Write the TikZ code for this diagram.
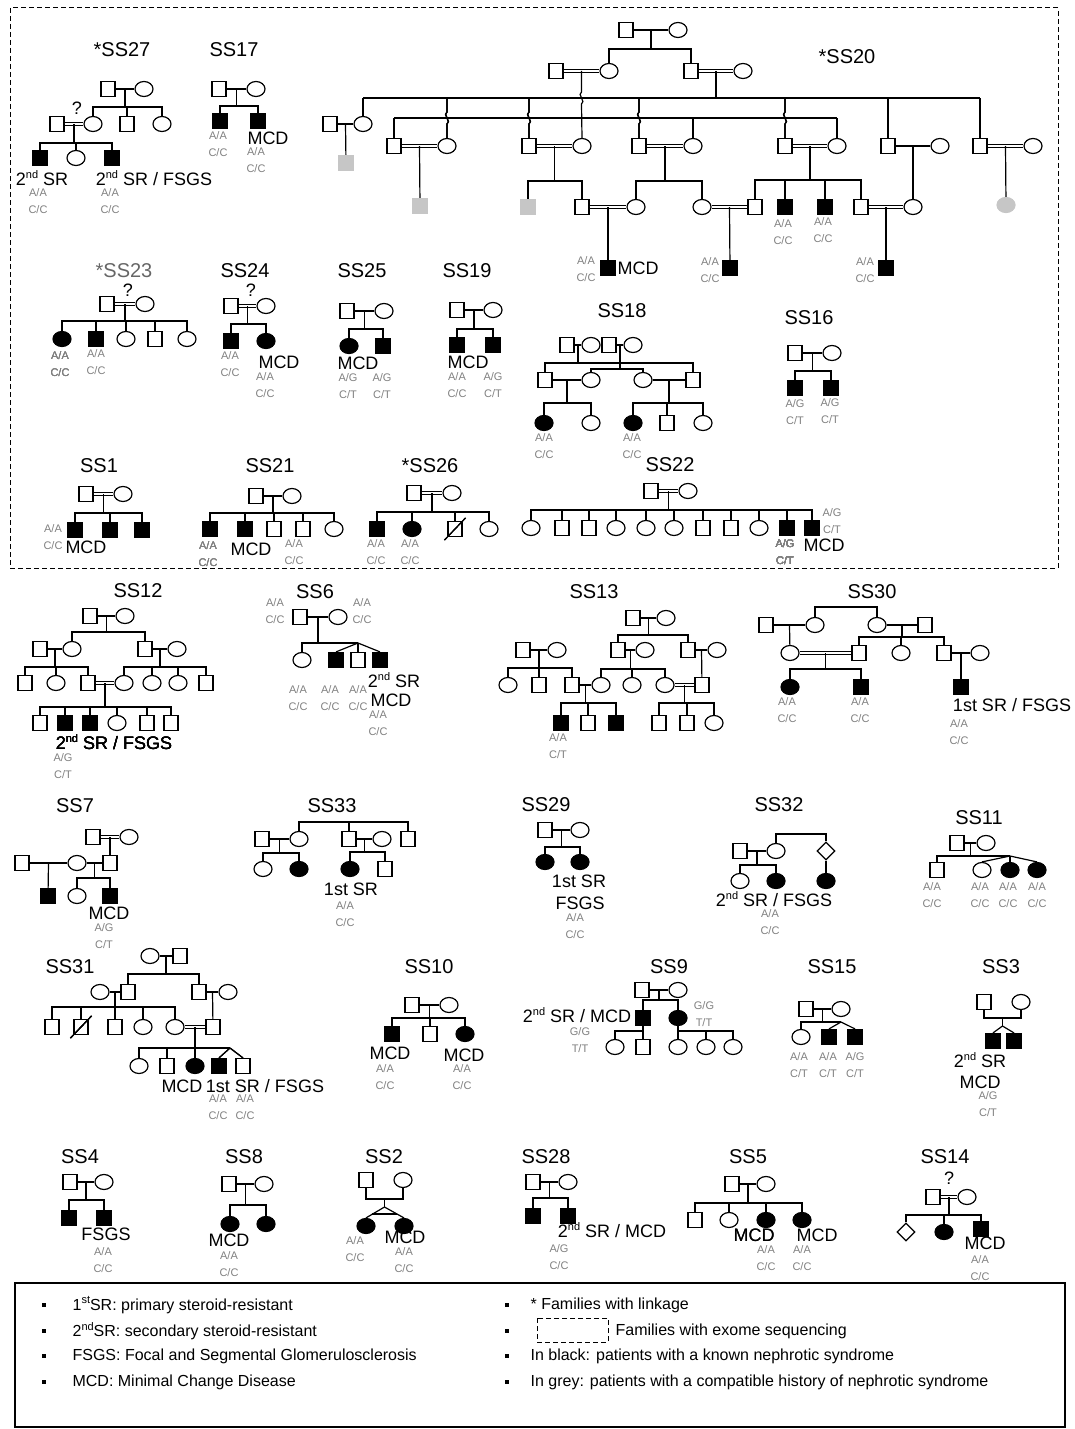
\documentclass[tikz,border=0pt]{standalone}
\usepackage{fontspec}
\setmainfont{Liberation Sans}
\usepackage{tikz}
\usetikzlibrary{calc}
\usetikzlibrary{shapes.geometric}
\tikzset{
	male/.style = {draw, rectangle, minimum width=7pt, minimum height=7.5pt, inner sep=0pt},
	female/.style = {draw, ellipse, minimum width=9pt, minimum height=7.5pt, inner sep=0pt},
	sexunk/.style = {draw, diamond, minimum width=9pt, minimum height=9pt, inner sep=0pt},
	maleaff/.style = {male, fill=black},
	femaleaff/.style = {female, fill=black},
	malegrey/.style = {male, draw=gray!45, fill=gray!45},
	femalegrey/.style = {female, draw=gray!45, fill=gray!45},
	cons/.style = {double, double distance=1pt},
	famname/.style = {font=\fontsize{10}{11}\selectfont, inner sep=0pt},
	diag/.style = {font=\fontsize{9}{10}\selectfont, inner sep=0pt},
	geno/.style = {font=\fontsize{5.5}{8.5}\selectfont, text=gray, align=center, inner sep=0pt},
	exome/.style = {dash pattern=on 2.5pt off 1.5pt, line width=0.5pt},
	bullet/.style = {fill=black, minimum size=2.2pt, inner sep=0pt},
	legtext/.style = {font=\fontsize{8}{9}\selectfont, anchor=west, inner sep=0pt}
}
\newcommand\supx[1]{\raisebox{0.75ex}{\fontsize{5.5}{6}\selectfont #1}}
\newcommand\sibline[3]{\draw (#2.north) -- (#2.north |- 0,#1) -- (#3.north |- 0,#1) -- (#3.north);}
\newcommand\dropto[2]{\draw (#2) -- (#2 |- 0,#1);}

\begin{document}
\begin{tikzpicture}[x=0.5pt, y=-0.5pt, line width=0.6pt]
	\useasboundingbox (0,0) rectangle (1075,1429);
	\draw[exome] (10,8) rectangle (1058,568);

	\node[famname] (l27) at (122,50) {*SS27};
	\node[male] (s27a) at (108,89) {};
	\node[female] (s27b) at (144,89) {};
	\node[female] (s27c) at (93,124) {};
	\node[male] (s27d) at (127,124) {};
	\node[female] (s27e) at (162,124) {};
	\node[male] (s27f) at (57,124) {};
	\node[maleaff] (s27g) at (40,158) {};
	\node[female] (s27h) at (76,158) {};
	\node[maleaff] (s27i) at (112,158) {};
	\draw (s27a) -- coordinate (s27ab) (s27b);
	\dropto{107}{s27ab}
	\sibline{107}{s27c}{s27e}
	\dropto{107}{s27d.north}
	\draw[cons] (s27f) -- coordinate (s27fc) (s27c);
	\node[diag] (q27) at (77,108) {?};
	\dropto{143}{s27fc}
	\sibline{143}{s27g}{s27i}
	\dropto{143}{s27h.north}
	\node[diag] (t27a) at (42,178) {2\supx{nd} SR};
	\node[diag] (t27b) at (154,178) {2\supx{nd} SR / FSGS};
	\node[geno] (g27a) at (38,201) {A/A\\C/C};
	\node[geno] (g27b) at (110,201) {A/A\\C/C};

	\node[famname] (l17) at (234,50) {SS17};
	\node[male] (s17a) at (219,89) {};
	\node[female] (s17b) at (256,89) {};
	\node[maleaff] (s17c) at (220,121) {};
	\node[maleaff] (s17d) at (258,121) {};
	\draw (s17a) -- coordinate (s17ab) (s17b);
	\dropto{106}{s17ab}
	\sibline{106}{s17c}{s17d}
	\node[diag] (t17) at (268,138) {MCD};
	\node[geno] (g17a) at (218,144) {A/A\\C/C};
	\node[geno] (g17b) at (256,160) {A/A\\C/C};

	\node[famname] (l20) at (847,57) {*SS20};
	\node[male] (s20a) at (626,30) {};
	\node[female] (s20b) at (678,30) {};
	\node[female] (s20c) at (609,71) {};
	\node[male] (s20d) at (691,71) {};
	\node[male] (s20e) at (556,71) {};
	\node[female] (s20f) at (743,71) {};
	\draw (s20a) -- coordinate (s20ab) (s20b);
	\dropto{49}{s20ab}
	\sibline{49}{s20c}{s20d}
	\draw[cons] (s20e) -- coordinate (s20ec) (s20c);
	\draw[cons] (s20d) -- coordinate (s20df) (s20f);
	\node[male] (s20g) at (330,124) {};
	\node[female] (s20h) at (363,124) {};
	\node[malegrey] (s20i) at (346,163) {};
	\node[male] (s20j) at (394,146) {};
	\node[female] (s20k) at (447,146) {};
	\node[male] (s20l) at (529,146) {};
	\node[female] (s20m) at (582,146) {};
	\node[male] (s20n) at (639,146) {};
	\node[female] (s20o) at (693,146) {};
	\node[male] (s20p) at (785,146) {};
	\node[female] (s20q) at (837,146) {};
	\node[male] (s20r) at (888,146) {};
	\node[female] (s20s) at (940,146) {};
	\node[male] (s20t) at (980,146) {};
	\node[female] (s20u) at (1033,146) {};
	\draw (s20h.north |- 0,98) -- (s20t.north |- 0,98);
	\dropto{98}{s20df}
	\foreach \c in {s20h,s20r,s20t}
		\dropto{98}{\c.north}
	\draw (s20j.north |- 0,118) -- (s20q.north |- 0,118);
	\foreach \c in {s20j,s20o,s20q}
		\dropto{118}{\c.north}
	\foreach \c in {s20k,s20l,s20n,s20p}
		\draw (\c.north |- 0,98) -- (\c.north |- 0,112) .. controls +(-5,2) and +(5,-2) .. (\c.north |- 0,124) -- (\c.north);
	\draw (s20ec) -- (s20ec |- 0,92) .. controls +(-5,2) and +(5,-2) .. (s20ec |- 0,104) -- (s20m.north);
	\draw (s20g) -- coordinate (s20gh) (s20h);
	\draw (s20gh) -- (s20i);
	\draw[cons] (s20j) -- coordinate (s20jk) (s20k);
	\node[malegrey] (s20v) at (420,206) {};
	\draw (s20jk) -- (s20v);
	\draw[cons] (s20l) -- coordinate (s20lm) (s20m);
	\node[malegrey] (s20w) at (528,207) {};
	\node[male] (s20x) at (582,207) {};
	\dropto{181}{s20lm}
	\sibline{181}{s20w}{s20x}
	\draw[cons] (s20n) -- coordinate (s20no) (s20o);
	\node[female] (s20y) at (636,207) {};
	\node[female] (s20z) at (702,207) {};
	\dropto{181}{s20no}
	\sibline{181}{s20y}{s20z}
	\draw[cons] (s20p) -- coordinate (s20pq) (s20q);
	\node[male] (s20A) at (755,207) {};
	\node[maleaff] (s20B) at (785,207) {};
	\node[maleaff] (s20C) at (825,207) {};
	\node[male] (s20D) at (861,207) {};
	\dropto{180}{s20pq}
	\sibline{180}{s20A}{s20D}
	\dropto{180}{s20B.north}
	\dropto{180}{s20C.north}
	\draw (s20r) -- coordinate (s20rs) (s20s);
	\node[female] (s20E) at (913,207) {};
	\draw (s20rs) -- (s20E);
	\draw[cons] (s20t) -- coordinate (s20tu) (s20u);
	\node[femalegrey] (s20F) at (1006,205) {};
	\draw (s20tu) -- (s20F);
	\draw[cons] (s20x) -- coordinate (s20xy) (s20y);
	\node[maleaff] (s20G) at (608,268) {};
	\draw (s20xy) -- (s20G);
	\draw[cons] (s20z) -- coordinate (s20zA) (s20A);
	\node[maleaff] (s20H) at (730,268) {};
	\draw (s20zA) -- (s20H);
	\draw[cons] (s20D) -- coordinate (s20DE) (s20E);
	\node[maleaff] (s20I) at (886,268) {};
	\draw (s20DE) -- (s20I);
	\node[diag] (t20) at (638,268) {MCD};
	\node[geno] (g20a) at (586,269) {A/A\\C/C};
	\node[geno] (g20b) at (710,270) {A/A\\C/C};
	\node[geno] (g20c) at (865,270) {A/A\\C/C};
	\node[geno] (g20d) at (783,232) {A/A\\C/C};
	\node[geno] (g20e) at (823,230) {A/A\\C/C};

	\node[famname, text=black!60] (l23) at (124,271) {*SS23};
	\node[diag] (q23) at (128,290) {?};
	\node[male] (s23a) at (107,304) {};
	\node[female] (s23b) at (145,304) {};
	\node[femaleaff] (s23c) at (62,339) {};
	\node[maleaff] (s23d) at (96,339) {};
	\node[female] (s23e) at (126,339) {};
	\node[male] (s23f) at (155,339) {};
	\node[female] (s23g) at (187,339) {};
	\draw[cons] (s23a) -- coordinate (s23ab) (s23b);
	\dropto{321}{s23ab}
	\sibline{321}{s23c}{s23g}
	\foreach \c in {s23d,s23e,s23f}
		\dropto{321}{\c.north}
	\node[geno] (g23a) at (60,364) {A/A\\C/C};
	\node[geno] (g23b) at (96,362) {A/A\\C/C};

	\node[famname] (l24) at (245,271) {SS24};
	\node[diag] (q24) at (251,290) {?};
	\node[male] (s24a) at (231,306) {};
	\node[female] (s24b) at (266,306) {};
	\node[maleaff] (s24c) at (231,341) {};
	\node[femaleaff] (s24d) at (266,341) {};
	\draw[cons] (s24a) -- coordinate (s24ab) (s24b);
	\dropto{324}{s24ab}
	\sibline{324}{s24c}{s24d}
	\node[diag] (t24) at (279,362) {MCD};
	\node[geno] (g24a) at (230,364) {A/A\\C/C};
	\node[geno] (g24b) at (265,385) {A/A\\C/C};

	\node[famname] (l25) at (362,271) {SS25};
	\node[male] (s25a) at (347,311) {};
	\node[female] (s25b) at (384,311) {};
	\node[femaleaff] (s25c) at (349,346) {};
	\node[maleaff] (s25d) at (383,346) {};
	\draw (s25a) -- coordinate (s25ab) (s25b);
	\dropto{329}{s25ab}
	\sibline{329}{s25c}{s25d}
	\node[diag] (t25) at (358,363) {MCD};
	\node[geno] (g25a) at (348,386) {A/G\\C/T};
	\node[geno] (g25b) at (382,386) {A/G\\C/T};

	\node[famname] (l19) at (467,271) {SS19};
	\node[male] (s19a) at (457,310) {};
	\node[female] (s19b) at (493,310) {};
	\node[maleaff] (s19c) at (457,345) {};
	\node[maleaff] (s19d) at (493,345) {};
	\draw (s19a) -- coordinate (s19ab) (s19b);
	\dropto{329}{s19ab}
	\sibline{329}{s19c}{s19d}
	\node[diag] (t19) at (468,362) {MCD};
	\node[geno] (g19a) at (457,385) {A/A\\C/C};
	\node[geno] (g19b) at (493,385) {A/G\\C/T};

	\node[famname] (l18) at (622,311) {SS18};
	\node[male] (s18a) at (567,345) {};
	\node[female] (s18b) at (591,345) {};
	\node[male] (s18c) at (609,345) {};
	\node[female] (s18d) at (633,345) {};
	\node[male] (s18e) at (545,380) {};
	\node[female] (s18f) at (591,380) {};
	\node[female] (s18g) at (643,380) {};
	\node[male] (s18h) at (693,380) {};
	\draw (s18a) -- coordinate (s18ab) (s18b);
	\draw (s18c) -- coordinate (s18cd) (s18d);
	\dropto{363}{s18ab}
	\sibline{363}{s18e}{s18h}
	\dropto{369}{s18cd}
	\sibline{369}{s18f}{s18g}
	\node[femaleaff] (s18i) at (544,423) {};
	\node[female] (s18j) at (591,423) {};
	\node[femaleaff] (s18k) at (633,423) {};
	\node[male] (s18l) at (667,423) {};
	\node[female] (s18m) at (703,423) {};
	\draw (s18e) -- coordinate (s18ef) (s18f);
	\draw (s18g) -- coordinate (s18gh) (s18h);
	\dropto{403}{s18ef}
	\sibline{403}{s18i}{s18j}
	\dropto{403}{s18gh}
	\sibline{403}{s18k}{s18m}
	\dropto{403}{s18l.north}
	\node[geno] (g18a) at (544,446) {A/A\\C/C};
	\node[geno] (g18b) at (632,446) {A/A\\C/C};

	\node[famname] (l16) at (809,318) {SS16};
	\node[male] (s16a) at (795,353) {};
	\node[female] (s16b) at (832,353) {};
	\node[maleaff] (s16c) at (795,388) {};
	\node[maleaff] (s16d) at (831,388) {};
	\draw (s16a) -- coordinate (s16ab) (s16b);
	\dropto{371}{s16ab}
	\sibline{371}{s16c}{s16d}
	\node[geno] (g16a) at (795,412) {A/G\\C/T};
	\node[geno] (g16b) at (830,411) {A/G\\C/T};

	\node[famname] (l1) at (99,466) {SS1};
	\node[male] (s1a) at (86,494) {};
	\node[female] (s1b) at (123,494) {};
	\node[maleaff] (s1c) at (75,530) {};
	\node[maleaff] (s1d) at (110,530) {};
	\node[maleaff] (s1e) at (142,530) {};
	\draw[cons] (s1a) -- coordinate (s1ab) (s1b);
	\dropto{513}{s1ab}
	\sibline{513}{s1c}{s1e}
	\dropto{513}{s1d.north}
	\node[geno] (g1) at (53,537) {A/A\\C/C};
	\node[diag] (t1) at (86,547) {MCD};

	\node[famname] (l21) at (270,466) {SS21};
	\node[male] (s21a) at (256,496) {};
	\node[female] (s21b) at (292,496) {};
	\node[maleaff] (s21c) at (210,529) {};
	\node[maleaff] (s21d) at (245,529) {};
	\node[male] (s21e) at (274,529) {};
	\node[male] (s21f) at (303,529) {};
	\node[female] (s21g) at (334,529) {};
	\draw (s21a) -- coordinate (s21ab) (s21b);
	\dropto{513}{s21ab}
	\sibline{513}{s21c}{s21g}
	\foreach \c in {s21d,s21e,s21f}
		\dropto{513}{\c.north}
	\node[geno] (g21a) at (208,554) {A/A\\C/C};
	\node[diag] (t21) at (251,549) {MCD};
	\node[geno] (g21b) at (294,552) {A/A\\C/C};

	\node[famname] (l26) at (430,466) {*SS26};
	\node[male] (s26a) at (414,493) {};
	\node[female] (s26b) at (452,493) {};
	\node[maleaff] (s26c) at (377,529) {};
	\node[femaleaff] (s26d) at (412,529) {};
	\node[male] (s26e) at (455,529) {};
	\node[female] (s26f) at (489,529) {};
	\draw[cons] (s26a) -- coordinate (s26ab) (s26b);
	\dropto{512}{s26ab}
	\sibline{512}{s26c}{s26f}
	\foreach \c in {s26d,s26e}
		\dropto{512}{\c.north}
	\draw ($(s26e.south west)+(-3,3)$) -- ($(s26e.north east)+(3,-3)$);
	\node[geno] (g26a) at (376,552) {A/A\\C/C};
	\node[geno] (g26b) at (410,552) {A/A\\C/C};

	\node[famname] (l22) at (670,465) {SS22};
	\node[male] (s22a) at (651,491) {};
	\node[female] (s22b) at (688,491) {};
	\draw[cons] (s22a) -- coordinate (s22ab) (s22b);
	\foreach \x/\s [count=\i] in {531/female,562/male,589/male,616/female,646/female,674/female,703/male,731/male,759/female,787/maleaff,812/maleaff}
		\node[\s] (s22c\i) at (\x,528) {};
	\dropto{510}{s22ab}
	\sibline{510}{s22c1}{s22c11}
	\foreach \i in {2,...,10}
		\dropto{510}{s22c\i.north}
	\node[geno] (g22a) at (785,552) {A/G\\C/T};
	\node[geno] (g22b) at (832,521) {A/G\\C/T};
	\node[diag] (t22) at (824,545) {MCD};

	\node[famname] (l12) at (138,591) {SS12};
	\node[male] (s12a) at (90,616) {};
	\node[female] (s12b) at (125,616) {};
	\node[female] (s12c) at (72,649) {};
	\node[male] (s12d) at (145,649) {};
	\node[male] (s12e) at (40,649) {};
	\node[female] (s12f) at (177,649) {};
	\draw (s12a) -- coordinate (s12ab) (s12b);
	\dropto{632}{s12ab}
	\sibline{632}{s12c}{s12d}
	\draw (s12e) -- coordinate (s12ec) (s12c);
	\draw (s12d) -- coordinate (s12df) (s12f);
	\node[male] (s12g) at (25,683) {};
	\node[female] (s12h) at (56,683) {};
	\node[male] (s12i) at (88,683) {};
	\node[female] (s12k) at (124,683) {};
	\node[female] (s12l) at (152,683) {};
	\node[female] (s12m) at (178,683) {};
	\node[male] (s12n) at (206,683) {};
	\dropto{667}{s12ec}
	\sibline{667}{s12g}{s12i}
	\dropto{667}{s12h.north}
	\dropto{667}{s12df}
	\sibline{667}{s12k}{s12n}
	\foreach \c in {s12l,s12m}
		\dropto{667}{\c.north}
	\draw[cons] (s12i) -- coordinate (s12ik) (s12k);
	\node[male] (s12o) at (40,723) {};
	\node[maleaff] (s12p) at (65,723) {};
	\node[maleaff] (s12q) at (90,723) {};
	\node[female] (s12r) at (117,723) {};
	\node[male] (s12s) at (147,723) {};
	\node[male] (s12t) at (171,723) {};
	\dropto{707}{s12ik}
	\sibline{707}{s12o}{s12t}
	\foreach \c in {s12p,s12q,s12r,s12s}
		\dropto{707}{\c.north}
	\node[diag] (t12) at (114,742) {2\supx{nd} SR / FSGS};
	\node[geno] (g12) at (63,766) {A/G\\C/T};

	\node[famname] (l6) at (315,592) {SS6};
	\node[male] (s6a) at (300,617) {};
	\node[female] (s6b) at (338,617) {};
	\node[female] (s6c) at (302,660) {};
	\node[maleaff] (s6d) at (336,660) {};
	\node[male] (s6e) at (358,660) {};
	\node[maleaff] (s6f) at (380,660) {};
	\draw (s6a) -- coordinate (s6ab) (s6b);
	\coordinate (s6t) at (358,643);
	\dropto{643}{s6ab}
	\draw (s6c.north) -- (s6c.north |- 0,643) -- (s6t);
	\foreach \c in {s6d,s6e,s6f}
		\draw (s6t) -- (\c.north);
	\node[geno] (g6a) at (275,611) {A/A\\C/C};
	\node[geno] (g6b) at (362,611) {A/A\\C/C};
	\node[geno] (g6c) at (298,698) {A/A\\C/C};
	\node[geno] (g6d) at (330,698) {A/A\\C/C};
	\node[geno] (g6e) at (358,698) {A/A\\C/C};
	\node[diag] (t6a) at (394,680) {2\supx{nd} SR};
	\node[diag] (t6b) at (391,700) {MCD};
	\node[geno] (g6f) at (378,723) {A/A\\C/C};

	\node[famname] (l13) at (594,592) {SS13};
	\node[male] (s13a) at (633,618) {};
	\node[female] (s13b) at (666,618) {};
	\node[male] (s13c) at (618,650) {};
	\node[female] (s13d) at (645,650) {};
	\node[male] (s13e) at (688,650) {};
	\node[female] (s13f) at (717,650) {};
	\node[male] (s13g) at (523,650) {};
	\node[female] (s13h) at (557,650) {};
	\draw (s13a) -- coordinate (s13ab) (s13b);
	\dropto{635}{s13ab}
	\sibline{635}{s13c}{s13e}
	\draw (s13g) -- coordinate (s13gh) (s13h);
	\draw (s13c) -- coordinate (s13cd) (s13d);
	\draw (s13e) -- coordinate (s13ef) (s13f);
	\node[female] (s13i) at (508,685) {};
	\node[male] (s13j) at (539,685) {};
	\node[male] (s13k) at (572,685) {};
	\node[female] (s13l) at (601,685) {};
	\node[female] (s13m) at (632,685) {};
	\node[female] (s13n) at (665,685) {};
	\node[male] (s13o) at (702,685) {};
	\dropto{668}{s13gh}
	\sibline{668}{s13i}{s13k}
	\dropto{668}{s13j.north}
	\dropto{669}{s13cd}
	\sibline{669}{s13l}{s13n}
	\dropto{669}{s13m.north}
	\draw (s13ef) -- (s13o);
	\draw (s13k) -- coordinate (s13kl) (s13l);
	\draw[cons] (s13n) -- coordinate (s13no) (s13o);
	\node[maleaff] (s13p) at (561,723) {};
	\node[male] (s13q) at (588,723) {};
	\node[maleaff] (s13r) at (616,723) {};
	\node[male] (s13s) at (659,723) {};
	\node[male] (s13t) at (687,723) {};
	\node[female] (s13u) at (714,723) {};
	\dropto{703}{s13kl}
	\sibline{703}{s13p}{s13r}
	\dropto{703}{s13q.north}
	\dropto{703}{s13no}
	\sibline{703}{s13s}{s13u}
	\dropto{703}{s13t.north}
	\node[geno] (g13) at (558,746) {A/A\\C/T};

	\node[famname] (l30) at (872,592) {SS30};
	\node[male] (s30a) at (766,625) {};
	\node[female] (s30b) at (815,625) {};
	\node[female] (s30c) at (877,625) {};
	\node[male] (s30d) at (925,625) {};
	\sibline{607}{s30b}{s30c}
	\draw (s30a) -- coordinate (s30ab) (s30b);
	\draw (s30c) -- coordinate (s30cd) (s30d);
	\node[female] (s30e) at (790,653) {};
	\node[male] (s30f) at (859,653) {};
	\node[female] (s30g) at (901,653) {};
	\node[male] (s30h) at (944,653) {};
	\node[female] (s30i) at (980,653) {};
	\draw (s30ab) -- (s30e);
	\dropto{637}{s30cd}
	\sibline{637}{s30f}{s30h}
	\dropto{637}{s30g.north}
	\draw[cons] (s30e) -- coordinate (s30ef) (s30f);
	\draw (s30h) -- coordinate (s30hi) (s30i);
	\node[femaleaff] (s30j) at (790,687) {};
	\node[maleaff] (s30k) at (861,687) {};
	\node[maleaff] (s30l) at (961,687) {};
	\dropto{669}{s30ef}
	\sibline{669}{s30j}{s30k}
	\draw (s30hi) -- (s30l);
	\node[geno] (g30a) at (787,710) {A/A\\C/C};
	\node[geno] (g30b) at (860,710) {A/A\\C/C};
	\node[diag] (t30) at (1012,705) {1st SR / FSGS};
	\node[geno] (g30c) at (959,732) {A/A\\C/C};

	\node[famname] (l7) at (75,806) {SS7};
	\node[male] (s7a) at (93,837) {};
	\node[female] (s7b) at (129,837) {};
	\node[male] (s7c) at (22,863) {};
	\node[female] (s7d) at (77,863) {};
	\node[male] (s7e) at (110,863) {};
	\draw[cons] (s7a) -- coordinate (s7ab) (s7b);
	\draw (s7ab) -- (s7e);
	\draw (s7c) -- coordinate (s7cd) (s7d);
	\draw (s7d) -- coordinate (s7de) (s7e);
	\node[maleaff] (s7f) at (48,896) {};
	\node[female] (s7g) at (77,896) {};
	\node[maleaff] (s7h) at (110,896) {};
	\draw (s7cd) -- (s7f);
	\dropto{878}{s7de}
	\sibline{878}{s7g}{s7h}
	\node[diag] (t7) at (109,913) {MCD};
	\node[geno] (g7) at (104,936) {A/G\\C/T};

	\node[famname] (l33) at (332,806) {SS33};
	\node[male] (s33a) at (262,839) {};
	\node[female] (s33b) at (299,839) {};
	\node[male] (s33c) at (349,839) {};
	\node[female] (s33d) at (382,839) {};
	\node[male] (s33e) at (408,839) {};
	\sibline{822}{s33b}{s33e}
	\dropto{822}{s33c.north}
	\draw (s33a) -- coordinate (s33ab) (s33b);
	\draw (s33c) -- coordinate (s33cd) (s33d);
	\node[female] (s33f) at (263,869) {};
	\node[femaleaff] (s33g) at (299,869) {};
	\node[femaleaff] (s33h) at (350,869) {};
	\node[male] (s33i) at (385,869) {};
	\dropto{853}{s33ab}
	\sibline{853}{s33f}{s33g}
	\dropto{852}{s33cd}
	\sibline{852}{s33h}{s33i}
	\node[diag] (t33) at (351,889) {1st SR};
	\node[geno] (g33) at (345,914) {A/A\\C/C};

	\node[famname] (l29) at (546,805) {SS29};
	\node[male] (s29a) at (545,830) {};
	\node[female] (s29b) at (580,830) {};
	\node[femaleaff] (s29c) at (545,862) {};
	\node[femaleaff] (s29d) at (580,862) {};
	\draw (s29a) -- coordinate (s29ab) (s29b);
	\dropto{847}{s29ab}
	\sibline{847}{s29c}{s29d}
	\node[diag] (t29a) at (579,881) {1st SR};
	\node[diag] (t29b) at (580,903) {FSGS};
	\node[geno] (g29) at (575,926) {A/A\\C/C};

	\node[famname] (l32) at (779,805) {SS32};
	\node[male] (s32a) at (740,851) {};
	\node[female] (s32b) at (776,851) {};
	\node[sexunk] (s32c) at (826,851) {};
	\sibline{834}{s32b}{s32c}
	\draw (s32a) -- coordinate (s32ab) (s32b);
	\node[female] (s32d) at (740,881) {};
	\node[femaleaff] (s32e) at (776,881) {};
	\node[femaleaff] (s32f) at (826,881) {};
	\dropto{865}{s32ab}
	\sibline{865}{s32d}{s32e}
	\draw (s32c) -- (s32f);
	\node[diag] (t32) at (774,899) {2\supx{nd} SR / FSGS};
	\node[geno] (g32) at (770,922) {A/A\\C/C};

	\node[famname] (l11) at (979,818) {SS11};
	\node[male] (s11a) at (957,843) {};
	\node[female] (s11b) at (986,843) {};
	\node[male] (s11c) at (937,870) {};
	\node[female] (s11d) at (982,870) {};
	\node[femaleaff] (s11e) at (1010,870) {};
	\node[femaleaff] (s11f) at (1037,870) {};
	\draw (s11a) -- coordinate (s11ab) (s11b);
	\coordinate (s11t) at (1010,856);
	\dropto{856}{s11ab}
	\draw (s11c.north) -- (s11c.north |- 0,856) -- (s11t);
	\foreach \c in {s11d,s11e,s11f}
		\draw (s11t) -- (\c.north);
	\foreach \x [count=\i] in {932,980,1008,1037}
		\node[geno] (g11\i) at (\x,895) {A/A\\C/C};

	\node[famname] (l31) at (70,967) {SS31};
	\node[female] (s31a) at (150,956) {};
	\node[male] (s31b) at (180,956) {};
	\node[female] (s31c) at (100,992) {};
	\node[male] (s31d) at (128,992) {};
	\node[male] (s31e) at (199,992) {};
	\node[female] (s31f) at (228,992) {};
	\draw (s31a) -- coordinate (s31ab) (s31b);
	\dropto{974}{s31ab}
	\sibline{974}{s31d}{s31e}
	\draw (s31c) -- coordinate (s31cd) (s31d);
	\draw (s31e) -- coordinate (s31ef) (s31f);
	\node[male] (s31g) at (52,1027) {};
	\node[male] (s31h) at (81,1027) {};
	\node[male] (s31i) at (115,1027) {};
	\node[female] (s31j) at (143,1027) {};
	\node[female] (s31k) at (175,1027) {};
	\node[male] (s31l) at (213,1027) {};
	\dropto{1007}{s31cd}
	\sibline{1007}{s31g}{s31k}
	\foreach \c in {s31h,s31i,s31j}
		\dropto{1007}{\c.north}
	\draw ($(s31h.south west)+(-3,3)$) -- ($(s31h.north east)+(3,-3)$);
	\draw (s31ef) -- (s31l);
	\draw[cons] (s31k) -- coordinate (s31kl) (s31l);
	\node[female] (s31m) at (139,1066) {};
	\node[male] (s31n) at (167,1066) {};
	\node[femaleaff] (s31o) at (195,1066) {};
	\node[maleaff] (s31p) at (219,1066) {};
	\node[male] (s31q) at (243,1066) {};
	\coordinate (s31t) at (230,1048);
	\dropto{1048}{s31kl}
	\draw (s31m.north) -- (s31m.north |- 0,1048) -- (s31t);
	\foreach \c in {s31n,s31o}
		\dropto{1048}{\c.north}
	\foreach \c in {s31p,s31q}
		\draw (s31t) -- (\c.north);
	\node[diag] (t31a) at (182,1086) {MCD};
	\node[diag] (t31b) at (265,1086) {1st SR / FSGS};
	\node[geno] (g31a) at (218,1107) {A/A\\C/C};
	\node[geno] (g31b) at (245,1107) {A/A\\C/C};

	\node[famname] (l10) at (429,967) {SS10};
	\node[male] (s10a) at (412,1005) {};
	\node[female] (s10b) at (449,1005) {};
	\node[maleaff] (s10c) at (392,1034) {};
	\node[male] (s10d) at (430,1034) {};
	\node[femaleaff] (s10e) at (465,1034) {};
	\draw (s10a) -- coordinate (s10ab) (s10b);
	\dropto{1018}{s10ab}
	\sibline{1018}{s10c}{s10e}
	\dropto{1018}{s10d.north}
	\node[diag] (t10a) at (390,1053) {MCD};
	\node[diag] (t10b) at (464,1055) {MCD};
	\node[geno] (g10a) at (385,1077) {A/A\\C/C};
	\node[geno] (g10b) at (462,1077) {A/A\\C/C};

	\node[famname] (l9) at (669,967) {SS9};
	\node[male] (s9a) at (642,990) {};
	\node[female] (s9b) at (678,990) {};
	\node[maleaff] (s9c) at (643,1018) {};
	\node[femaleaff] (s9d) at (678,1018) {};
	\draw (s9a) -- coordinate (s9ab) (s9b);
	\dropto{1000}{s9ab}
	\sibline{1000}{s9c}{s9d}
	\node[female] (s9e) at (615,1047) {};
	\node[male] (s9f) at (643,1047) {};
	\node[female] (s9g) at (678,1047) {};
	\node[female] (s9h) at (706,1047) {};
	\node[female] (s9i) at (733,1047) {};
	\draw (s9c) -- (s9f);
	\sibline{1031}{s9e}{s9f}
	\draw (s9d) -- (s9g);
	\sibline{1031}{s9g}{s9i}
	\dropto{1031}{s9h.north}
	\node[diag] (t9) at (577,1015) {2\supx{nd} SR / MCD};
	\node[geno] (g9a) at (580,1040) {G/G\\T/T};
	\node[geno] (g9b) at (704,1014) {G/G\\T/T};

	\node[famname] (l15) at (832,967) {SS15};
	\node[male] (s15a) at (806,1009) {};
	\node[female] (s15b) at (841,1009) {};
	\node[female] (s15c) at (801,1037) {};
	\node[maleaff] (s15d) at (829,1037) {};
	\node[maleaff] (s15e) at (855,1037) {};
	\draw (s15a) -- coordinate (s15ab) (s15b);
	\coordinate (s15t) at (841,1022);
	\dropto{1022}{s15ab}
	\draw (s15c.north) -- (s15c.north |- 0,1022) -- (s15t);
	\foreach \c in {s15d,s15e}
		\draw (s15t) -- (\c.north);
	\node[geno] (g15a) at (799,1065) {A/A\\C/T};
	\node[geno] (g15b) at (828,1065) {A/A\\C/T};
	\node[geno] (g15c) at (855,1065) {A/G\\C/T};

	\node[famname] (l3) at (1001,967) {SS3};
	\node[male] (s3a) at (984,1002) {};
	\node[female] (s3b) at (1021,1002) {};
	\node[maleaff] (s3d) at (993,1041) {};
	\node[maleaff] (s3e) at (1014,1041) {};
	\draw (s3a.south) -- (s3a.south |- 0,1018) -- coordinate (s3ab) (s3b.south |- 0,1018) -- (s3b.south);
	\draw (s3ab) -- (s3ab |- 0,1026) coordinate (s3t);
	\foreach \c in {s3d,s3e}
		\draw (s3t) -- (\c.north);
	\node[diag] (t3a) at (980,1060) {2\supx{nd} SR};
	\node[diag] (t3b) at (980,1082) {MCD};
	\node[geno] (g3) at (988,1104) {A/G\\C/T};

	\node[famname] (l4) at (80,1157) {SS4};
	\node[male] (s4a) at (70,1182) {};
	\node[female] (s4b) at (104,1182) {};
	\node[maleaff] (s4c) at (69,1218) {};
	\node[maleaff] (s4d) at (104,1218) {};
	\draw (s4a) -- coordinate (s4ab) (s4b);
	\dropto{1200}{s4ab}
	\sibline{1200}{s4c}{s4d}
	\node[diag] (t4) at (106,1234) {FSGS};
	\node[geno] (g4) at (103,1260) {A/A\\C/C};

	\node[famname] (l8) at (244,1157) {SS8};
	\node[male] (s8a) at (229,1184) {};
	\node[female] (s8b) at (264,1184) {};
	\node[femaleaff] (s8c) at (230,1224) {};
	\node[femaleaff] (s8d) at (266,1224) {};
	\draw (s8a) -- coordinate (s8ab) (s8b);
	\dropto{1205}{s8ab}
	\sibline{1205}{s8c}{s8d}
	\node[diag] (t8) at (229,1240) {MCD};
	\node[geno] (g8) at (229,1264) {A/A\\C/C};

	\node[famname] (l2) at (384,1157) {SS2};
	\node[male] (s2a) at (366,1180) {};
	\node[female] (s2b) at (403,1180) {};
	\node[femaleaff] (s2c) at (366,1226) {};
	\node[femaleaff] (s2d) at (404,1226) {};
	\draw (s2a.south) -- (s2a.south |- 0,1199) -- coordinate (s2ab) (s2b.south |- 0,1199) -- (s2b.south);
	\draw (s2ab) -- (s2ab |- 0,1207) coordinate (s2t);
	\foreach \c in {s2c,s2d}
		\draw (s2t) -- (\c.north);
	\draw ($(s2t)!0.65!(s2c.north)$) -- ($(s2t)!0.65!(s2d.north)$);
	\node[geno] (g2a) at (355,1249) {A/A\\C/C};
	\node[diag] (t2) at (405,1237) {MCD};
	\node[geno] (g2b) at (404,1260) {A/A\\C/C};

	\node[famname] (l28) at (546,1157) {SS28};
	\node[male] (s28a) at (533,1182) {};
	\node[female] (s28b) at (568,1182) {};
	\node[maleaff] (s28c) at (533,1216) {};
	\node[maleaff] (s28d) at (568,1216) {};
	\draw (s28a) -- coordinate (s28ab) (s28b);
	\dropto{1198}{s28ab}
	\sibline{1198}{s28c}{s28d}
	\node[diag] (t28) at (612,1230) {2\supx{nd} SR / MCD};
	\node[geno] (g28) at (559,1257) {A/G\\C/C};

	\node[famname] (l5) at (748,1157) {SS5};
	\node[male] (s5a) at (732,1184) {};
	\node[female] (s5b) at (766,1184) {};
	\node[male] (s5c) at (695,1220) {};
	\node[female] (s5d) at (729,1220) {};
	\node[femaleaff] (s5e) at (766,1220) {};
	\node[femaleaff] (s5f) at (802,1220) {};
	\draw (s5a) -- coordinate (s5ab) (s5b);
	\dropto{1203}{s5ab}
	\sibline{1203}{s5c}{s5f}
	\foreach \c in {s5d,s5e}
		\dropto{1203}{\c.north}
	\node[diag] (t5a) at (754,1235) {MCD};
	\node[diag] (t5b) at (817,1235) {MCD};
	\node[geno] (g5a) at (766,1258) {A/A\\C/C};
	\node[geno] (g5b) at (802,1258) {A/A\\C/C};

	\node[famname] (l14) at (945,1157) {SS14};
	\node[diag] (q14) at (949,1178) {?};
	\node[male] (s14a) at (933,1197) {};
	\node[female] (s14b) at (967,1197) {};
	\node[sexunk] (s14c) at (906,1232) {};
	\node[femaleaff] (s14d) at (944,1232) {};
	\node[maleaff] (s14e) at (981,1229) {};
	\draw[cons] (s14a) -- coordinate (s14ab) (s14b);
	\dropto{1215}{s14ab}
	\sibline{1215}{s14c}{s14e}
	\dropto{1215}{s14d.north}
	\node[diag] (t14) at (985,1243) {MCD};
	\node[geno] (g14) at (980,1268) {A/A\\C/C};

	\draw (15,1283) rectangle (1065,1427);
	\foreach \y [count=\i] in {1305,1331,1356,1382} {
		\node[bullet] (kl\i) at (44,\y) {};
		\node[bullet] (kr\i) at (507,\y) {};
	}
	\node[legtext] (kl1t) at (72,1305) {1\supx{st}SR: primary steroid-resistant};
	\node[legtext] (kl2t) at (72,1331) {2\supx{nd}SR: secondary steroid-resistant};
	\node[legtext] (kl3t) at (72,1356) {FSGS: Focal and Segmental Glomerulosclerosis};
	\node[legtext] (kl4t) at (72,1382) {MCD: Minimal Change Disease};
	\node[legtext] (kr1t) at (530,1305) {* Families with linkage};
	\draw[exome] (537,1318) rectangle (608,1342);
	\node[legtext] (kr2t) at (615,1331) {Families with exome sequencing};
	\node[legtext] (kr3t) at (530,1356) {In black: patients with a known nephrotic syndrome};
	\node[legtext] (kr4t) at (530,1382) {In grey: patients with a compatible history of nephrotic syndrome};
\end{tikzpicture}
\end{document}
